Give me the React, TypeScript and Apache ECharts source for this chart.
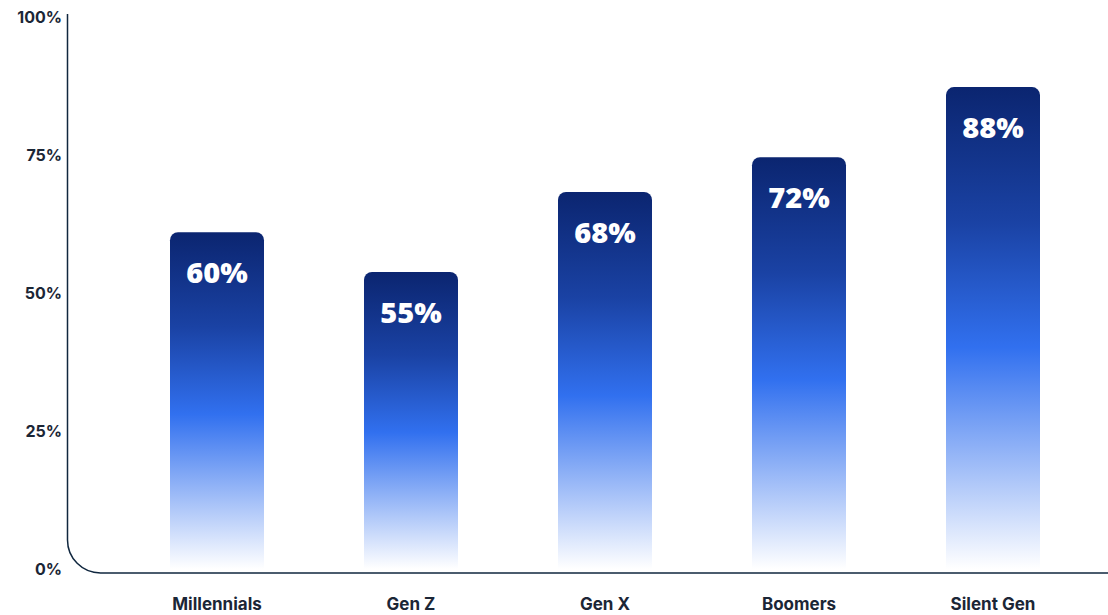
import React, { useEffect, useRef } from "react";
import * as echarts from "echarts";

const categories = ["Millennials", "Gen Z", "Gen X", "Boomers", "Silent Gen"];
// bar heights as drawn (percent)
const barValues = [61.0, 53.8, 68.3, 74.6, 87.3];
// labels printed on the bars
const barLabels = ["60%", "55%", "68%", "72%", "88%"];
const yTicks = [0, 25, 50, 75, 100];

const axisPath = "M67.5 14 L67.5 540 A33 33 0 0 0 100.5 573 L1108 573";
echarts.graphic.registerShape("axisCorner", echarts.graphic.extendPath(axisPath, {}) as any);

export default function App() {
  const ref = useRef<HTMLDivElement>(null);
  useEffect(() => {
    document.body.style.margin = "0";
    const chart = echarts.init(ref.current!, null, { renderer: "svg" });
    const grad = new echarts.graphic.LinearGradient(0, 0, 0, 1, [
      { offset: 0, color: "#0b2570" },
      { offset: 0.28, color: "#1a42a4" },
      { offset: 0.54, color: "#3170ef" },
      { offset: 1, color: "#ffffff" },
    ]);
    chart.setOption({
      animation: false,
      grid: { left: 120, right: 18, top: 17, bottom: 46 },
      xAxis: {
        type: "category",
        data: categories,
        axisLine: { show: false },
        axisTick: { show: false },
        axisLabel: {
          margin: 26,
          color: "#1b2636",
          fontSize: 17,
          fontWeight: 700,
          fontFamily: "Inter, 'Open Sans', sans-serif",
        },
      },
      yAxis: {
        type: "value",
        min: yTicks[0],
        max: yTicks[yTicks.length - 1],
        interval: 25,
        splitLine: { show: false },
        axisLine: { show: false },
        axisTick: { show: false },
        axisLabel: {
          margin: 58,
          formatter: "{value}%",
          color: "#1b2636",
          fontSize: 16,
          fontWeight: 700,
          fontFamily: "Inter, 'Open Sans', sans-serif",
        },
      },
      series: [
        {
          type: "bar",
          data: barValues,
          barWidth: 94,
          itemStyle: { color: grad, borderRadius: [8, 8, 0, 0] },
          label: {
            show: true,
            position: "insideTop",
            distance: 25,
            color: "#ffffff",
            fontSize: 29,
            fontWeight: 800,
            fontFamily: "'Open Sans', Inter, sans-serif",
            formatter: (p: any) => barLabels[p.dataIndex],
          },
        },
      ],
      graphic: [
        {
          type: "axisCorner",
          x: 0,
          y: 0,
          silent: true,
          style: { fill: "none", stroke: "#10273f", lineWidth: 1.5 },
        },
      ],
    });
    return () => chart.dispose();
  }, []);
  return <div ref={ref} style={{ width: 1108, height: 615 }} />;
}
